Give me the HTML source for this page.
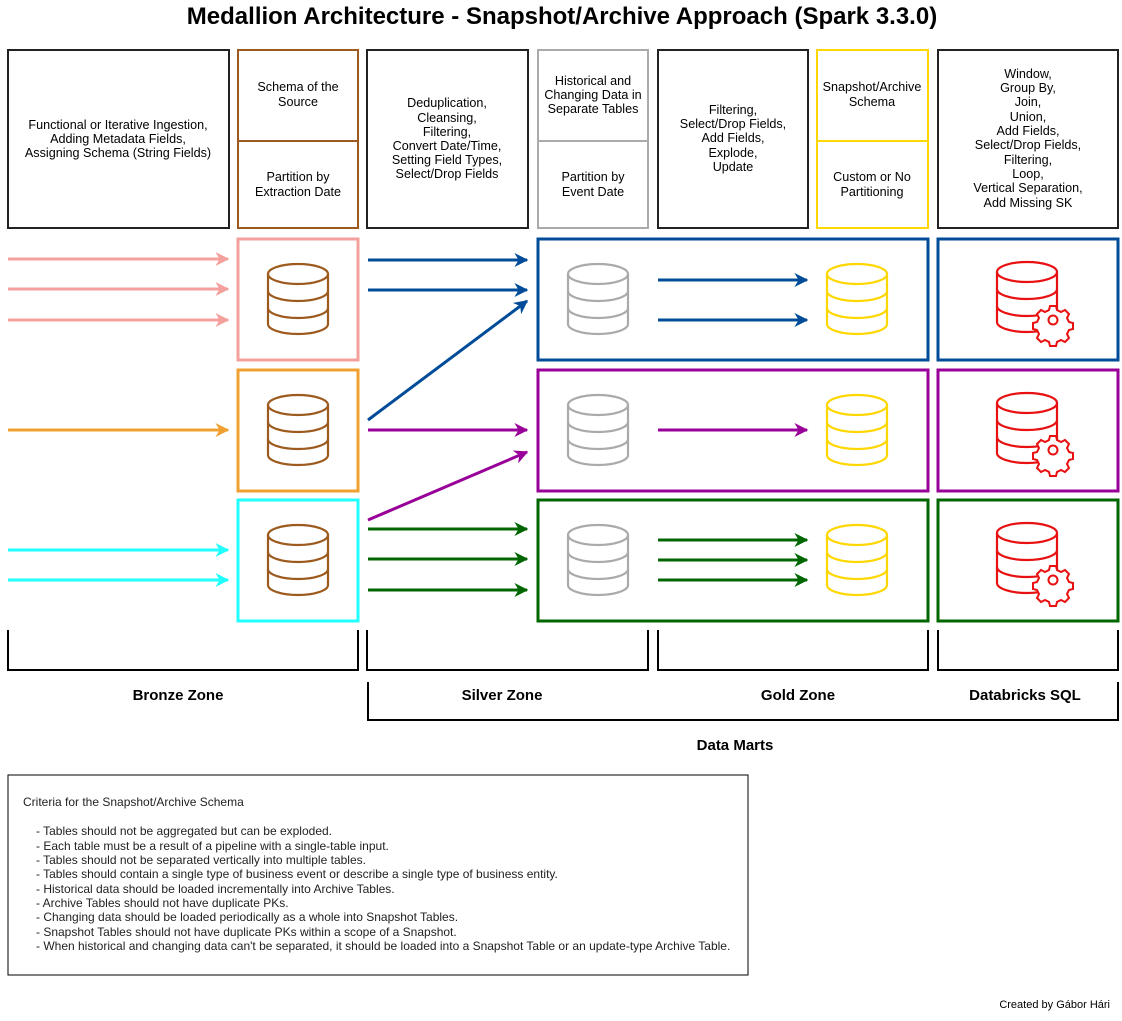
<!DOCTYPE html>
<html><head><meta charset="utf-8"><style>
body{margin:0;background:#fff}
svg{display:block;font-family:"Liberation Sans",Arial,sans-serif}
.h{font-size:12.6px;text-anchor:middle;fill:#000}
.z{font-size:15px;font-weight:bold;text-anchor:middle}
.c{font-size:12px;fill:#222}
</style></head><body>
<svg width="1122" height="1021" viewBox="0 0 1122 1021" xmlns="http://www.w3.org/2000/svg">
<defs>
<g id="db" fill="none" stroke-width="2.2">
<ellipse cx="0" cy="-24" rx="30" ry="10"/>
<path d="M-30,-24 V26 A30,10 0 0 0 30,26 V-24"/>
<path d="M-30,-7 A30,10 0 0 0 30,-7"/>
<path d="M-30,10 A30,10 0 0 0 30,10"/>
</g>
<g id="gear" fill="#fff" stroke="#e81010" stroke-width="2">
<path d="M-3,-14 h6 l1,4 l4,2 l4,-2 l4,4 l-2,4 l2,4 l4,1 v6 l-4,1 l-2,4 l2,4 l-4,4 l-4,-2 l-4,2 l-1,4 h-6 l-1,-4 l-4,-2 l-4,2 l-4,-4 l2,-4 l-2,-4 l-4,-1 v-6 l4,-1 l2,-4 l-2,-4 l4,-4 l4,2 l4,-2 z"/>
<circle cx="0" cy="0" r="4.5"/>
</g>
<marker id="mp" viewBox="0 0 10 10" refX="9" refY="5" markerWidth="14" markerHeight="14" orient="auto" markerUnits="userSpaceOnUse"><path d="M0,0 L10,5 L0,10 L3,5z" fill="#f4a09c"/></marker>
<marker id="mo" viewBox="0 0 10 10" refX="9" refY="5" markerWidth="14" markerHeight="14" orient="auto" markerUnits="userSpaceOnUse"><path d="M0,0 L10,5 L0,10 L3,5z" fill="#f0a030"/></marker>
<marker id="mc" viewBox="0 0 10 10" refX="9" refY="5" markerWidth="14" markerHeight="14" orient="auto" markerUnits="userSpaceOnUse"><path d="M0,0 L10,5 L0,10 L3,5z" fill="#22ffff"/></marker>
<marker id="mb" viewBox="0 0 10 10" refX="9" refY="5" markerWidth="14" markerHeight="14" orient="auto" markerUnits="userSpaceOnUse"><path d="M0,0 L10,5 L0,10 L3,5z" fill="#004c99"/></marker>
<marker id="mu" viewBox="0 0 10 10" refX="9" refY="5" markerWidth="14" markerHeight="14" orient="auto" markerUnits="userSpaceOnUse"><path d="M0,0 L10,5 L0,10 L3,5z" fill="#990099"/></marker>
<marker id="mg" viewBox="0 0 10 10" refX="9" refY="5" markerWidth="14" markerHeight="14" orient="auto" markerUnits="userSpaceOnUse"><path d="M0,0 L10,5 L0,10 L3,5z" fill="#006600"/></marker>
</defs>
<text x="562" y="24" font-size="24" font-weight="bold" text-anchor="middle">Medallion Architecture - Snapshot/Archive Approach (Spark 3.3.0)</text>

<g fill="none" stroke-width="2">
<rect x="8" y="50" width="221" height="178" stroke="#222"/>
<rect x="238" y="50" width="120" height="178" stroke="#9c5a1e"/><line x1="238" y1="141" x2="358" y2="141" stroke="#9c5a1e"/>
<rect x="367" y="50" width="161" height="178" stroke="#222"/>
<rect x="538" y="50" width="110" height="178" stroke="#aaa"/><line x1="538" y1="141" x2="648" y2="141" stroke="#aaa"/>
<rect x="658" y="50" width="150" height="178" stroke="#222"/>
<rect x="817" y="50" width="111" height="178" stroke="#ffd700"/><line x1="817" y1="141" x2="928" y2="141" stroke="#ffd700"/>
<rect x="938" y="50" width="180" height="178" stroke="#222"/>
</g>
<g class="h">
<text x="118" y="129">Functional or Iterative Ingestion,</text><text x="118" y="143">Adding Metadata Fields,</text><text x="118" y="157">Assigning Schema (String Fields)</text>
<text x="298" y="91">Schema of the</text><text x="298" y="106">Source</text>
<text x="298" y="181">Partition by</text><text x="298" y="196">Extraction Date</text>
<text x="447" y="107">Deduplication,</text><text x="447" y="122">Cleansing,</text><text x="447" y="136">Filtering,</text><text x="447" y="150">Convert Date/Time,</text><text x="447" y="164">Setting Field Types,</text><text x="447" y="178">Select/Drop Fields</text>
<text x="593" y="85">Historical and</text><text x="593" y="99">Changing Data in</text><text x="593" y="113">Separate Tables</text>
<text x="593" y="181">Partition by</text><text x="593" y="196">Event Date</text>
<text x="733" y="114">Filtering,</text><text x="733" y="128">Select/Drop Fields,</text><text x="733" y="142">Add Fields,</text><text x="733" y="157">Explode,</text><text x="733" y="171">Update</text>
<text x="872" y="91">Snapshot/Archive</text><text x="872" y="106">Schema</text>
<text x="872" y="181">Custom or No</text><text x="872" y="196">Partitioning</text>
<text x="1028" y="78">Window,</text><text x="1028" y="92">Group By,</text><text x="1028" y="106">Join,</text><text x="1028" y="121">Union,</text><text x="1028" y="135">Add Fields,</text><text x="1028" y="149">Select/Drop Fields,</text><text x="1028" y="164">Filtering,</text><text x="1028" y="178">Loop,</text><text x="1028" y="192">Vertical Separation,</text><text x="1028" y="207">Add Missing SK</text>
</g>

<g fill="none" stroke-width="3">
<rect x="238" y="239" width="120" height="121" stroke="#f4a09c"/>
<rect x="238" y="370" width="120" height="121" stroke="#f0a030"/>
<rect x="238" y="500" width="120" height="121" stroke="#22ffff"/>
<rect x="538" y="239" width="390" height="121" stroke="#004c99"/>
<rect x="538" y="370" width="390" height="121" stroke="#990099"/>
<rect x="538" y="500" width="390" height="121" stroke="#006600"/>
<rect x="938" y="239" width="180" height="121" stroke="#004c99"/>
<rect x="938" y="370" width="180" height="121" stroke="#990099"/>
<rect x="938" y="500" width="180" height="121" stroke="#006600"/>
</g>

<g stroke="#9c5a1e"><use href="#db" x="298" y="298"/><use href="#db" x="298" y="429"/><use href="#db" x="298" y="559"/></g>
<g stroke="#aaa"><use href="#db" x="598" y="298"/><use href="#db" x="598" y="429"/><use href="#db" x="598" y="559"/></g>
<g stroke="#ffd700"><use href="#db" x="857" y="298"/><use href="#db" x="857" y="429"/><use href="#db" x="857" y="559"/></g>
<g stroke="#e81010"><use href="#db" x="1027" y="296"/><use href="#db" x="1027" y="427"/><use href="#db" x="1027" y="557"/></g>
<use href="#gear" x="1053" y="320"/><use href="#gear" x="1053" y="450"/><use href="#gear" x="1053" y="580"/>

<g stroke-width="3" fill="none">
<g stroke="#f4a09c" marker-end="url(#mp)"><line x1="8" y1="259" x2="228" y2="259"/><line x1="8" y1="289" x2="228" y2="289"/><line x1="8" y1="320" x2="228" y2="320"/></g>
<line x1="8" y1="430" x2="228" y2="430" stroke="#f0a030" marker-end="url(#mo)"/>
<g stroke="#22ffff" marker-end="url(#mc)"><line x1="8" y1="550" x2="228" y2="550"/><line x1="8" y1="580" x2="228" y2="580"/></g>
<g stroke="#004c99" marker-end="url(#mb)"><line x1="368" y1="260" x2="527" y2="260"/><line x1="368" y1="290" x2="527" y2="290"/><line x1="368" y1="420" x2="527" y2="301"/><line x1="658" y1="280" x2="807" y2="280"/><line x1="658" y1="320" x2="807" y2="320"/></g>
<g stroke="#990099" marker-end="url(#mu)"><line x1="368" y1="430" x2="527" y2="430"/><line x1="368" y1="520" x2="527" y2="452"/><line x1="658" y1="430" x2="807" y2="430"/></g>
<g stroke="#006600" marker-end="url(#mg)"><line x1="368" y1="529" x2="527" y2="529"/><line x1="368" y1="559" x2="527" y2="559"/><line x1="368" y1="590" x2="527" y2="590"/><line x1="658" y1="540" x2="807" y2="540"/><line x1="658" y1="560" x2="807" y2="560"/><line x1="658" y1="580" x2="807" y2="580"/></g>
</g>

<g fill="none" stroke="#000" stroke-width="2">
<path d="M8,630 V670 H358 V630"/><path d="M367,630 V670 H648 V630"/><path d="M658,630 V670 H928 V630"/><path d="M938,630 V670 H1118 V630"/>
<path d="M368,682 V720 H1118 V682"/>
</g>
<text class="z" x="178" y="700">Bronze Zone</text>
<text class="z" x="502" y="700">Silver Zone</text>
<text class="z" x="798" y="700">Gold Zone</text>
<text class="z" x="1025" y="700">Databricks SQL</text>
<text class="z" x="735" y="750">Data Marts</text>

<rect x="8" y="775" width="740" height="200" fill="none" stroke="#000" stroke-width="1"/>
<g class="c">
<text x="23" y="806">Criteria for the Snapshot/Archive Schema</text>
<text x="36" y="835">- Tables should not be aggregated but can be exploded.</text>
<text x="36" y="850">- Each table must be a result of a pipeline with a single-table input.</text>
<text x="36" y="864">- Tables should not be separated vertically into multiple tables.</text>
<text x="36" y="878">- Tables should contain a single type of business event or describe a single type of business entity.</text>
<text x="36" y="893">- Historical data should be loaded incrementally into Archive Tables.</text>
<text x="36" y="907">- Archive Tables should not have duplicate PKs.</text>
<text x="36" y="921">- Changing data should be loaded periodically as a whole into Snapshot Tables.</text>
<text x="36" y="936">- Snapshot Tables should not have duplicate PKs within a scope of a Snapshot.</text>
<text x="36" y="950">- When historical and changing data can't be separated, it should be loaded into a Snapshot Table or an update-type Archive Table.</text>
</g>
<text x="1110" y="1008" font-size="11" text-anchor="end">Created by Gábor Hári</text>
</svg>
</body></html>
